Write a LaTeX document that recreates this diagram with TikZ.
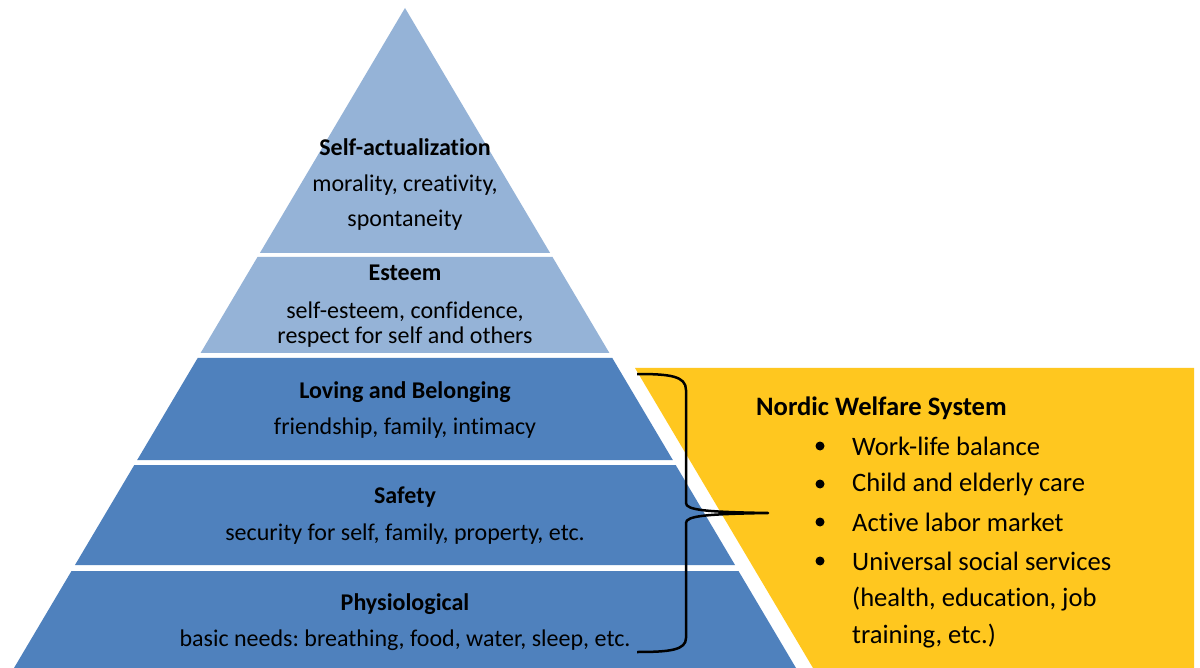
\documentclass[tikz,border=0pt]{standalone}
\usepackage{fontspec}
\setmainfont{Carlito}[Ligatures=NoCommon]
\frenchspacing
\definecolor{lightblue}{RGB}{149,179,215}
\definecolor{darkblue}{RGB}{79,129,189}
\definecolor{nordicyellow}{RGB}{255,199,31}
\begin{document}
\begin{tikzpicture}[x=1pt,y=-1pt,
  lvl/.style={inner sep=0pt,text=black,font=\fontsize{24}{28}\selectfont\frenchspacing},
  lvltitle/.style={lvl,font=\fontsize{24}{28}\selectfont\bfseries},
  rtxt/.style={inner sep=0pt,anchor=west,text=black,font=\fontsize{26.6}{30}\selectfont\frenchspacing},
  bul/.style={circle,fill=black,inner sep=0pt,minimum size=9pt}]
\useasboundingbox (0,0) rectangle (1200,668);
\fill[white] (0,0) rectangle (1200,668);
% pyramid layers
\fill[lightblue] (405,8) -- (550.1,253) -- (259.9,253) -- cycle;
\fill[lightblue] (257.5,257) -- (552.5,257) -- (609.4,353) -- (200.6,353) -- cycle;
\fill[darkblue] (197.7,358) -- (612.3,358) -- (672.8,460) -- (137.2,460) -- cycle;
\fill[darkblue] (134.3,465) -- (675.7,465) -- (735.0,565) -- (75.0,565) -- cycle;
\fill[darkblue] (71.5,571) -- (738.5,571) -- (796,668) -- (14,668) -- cycle;
% yellow panel
\fill[nordicyellow] (635,368) -- (1194,368) -- (1194,668) -- (813,668) -- cycle;
% texts in pyramid
\node[lvltitle] (sa) at (405,147.5) {Self-actualization};
\node[lvl] (sa1) at (405,185) {morality, creativity,};
\node[lvl] (sa2) at (405,220) {spontaneity};
\node[lvltitle] (es) at (405,273) {Esteem};
\node[lvl] (es1) at (405,311.5) {self-esteem, confidence,};
\node[lvl] (es2) at (405,337.5) {respect for self and others};
\node[lvltitle] (lb) at (405,392) {Loving and Belonging};
\node[lvl] (lb1) at (405,428.5) {friendship, family, intimacy};
\node[lvltitle] (sf) at (405,497) {Safety};
\node[lvl] (sf1) at (405,534.5) {security for self, family, property, etc.};
\node[lvltitle] (ph) at (405,604) {Physiological};
\node[lvl] (ph1) at (405,640.5) {basic needs: breathing, food, water, sleep, etc.};
% brace
\coordinate (bt) at (637,374);
\coordinate (bb) at (637,652);
\coordinate (tip) at (768,513);
\draw[line width=2.5pt,line join=round]
  (bt) .. controls (670,374) and (686,376) .. (686,390) -- (686,503)
  .. controls (686,510) and (705,512) .. (tip)
  .. controls (705,514) and (686,516) .. (686,523) -- (686,638)
  .. controls (686,650) and (670,652) .. (bb);
% right text
\node[rtxt,font=\fontsize{26.6}{30}\selectfont\bfseries] (nw) at (756,408.5) {Nordic Welfare System};
\node[bul] (b1) at (820,446) {};
\node[bul] (b2) at (820,484) {};
\node[bul] (b3) at (820,522) {};
\node[bul] (b4) at (820,561) {};
\node[rtxt] (t1) at (852,446.5) {Work-life balance};
\node[rtxt] (t2) at (852,484.5) {Child and elderly care};
\node[rtxt] (t3) at (852,522.5) {Active labor market};
\node[rtxt] (t4) at (852,561.5) {Universal social services};
\node[rtxt] (t5) at (852,599.5) {(health, education, job};
\node[rtxt] (t6) at (852,636.5) {training, etc.)};
\end{tikzpicture}
\end{document}
